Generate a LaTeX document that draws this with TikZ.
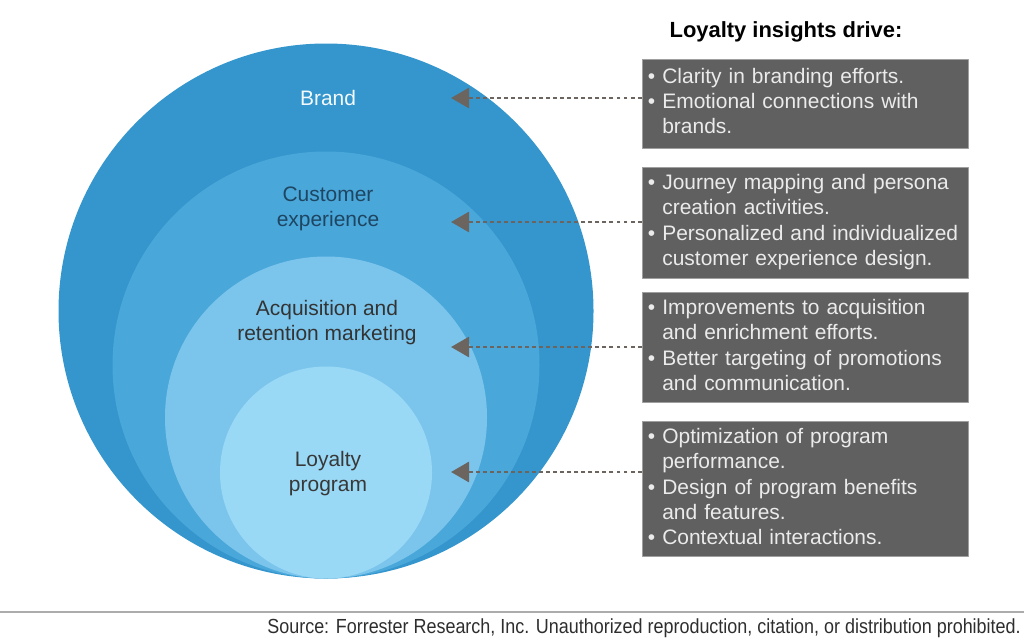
\documentclass[tikz,border=0pt]{standalone}
\usepackage{fontspec}
\setmainfont{Liberation Sans}
\newfontfamily\srcfont[FakeStretch=0.88]{Liberation Sans}
\usetikzlibrary{arrows.meta,positioning}
\definecolor{ringA}{RGB}{52,150,205}
\definecolor{ringB}{RGB}{74,167,218}
\definecolor{ringC}{RGB}{123,197,236}
\definecolor{ringD}{RGB}{153,217,246}
\definecolor{boxgray}{RGB}{96,96,96}
\definecolor{arrgray}{RGB}{108,100,95}
\definecolor{navy}{RGB}{30,70,98}
\newcommand{\pts}[1]{\begin{tabular}{@{}l@{\hspace{5pt}}l@{}}#1\end{tabular}}
\tikzset{
  insight/.style={draw=gray!75, line width=0.6pt, fill=boxgray, text=white!92!black,
    minimum width=8.15cm, text width=7.85cm, inner xsep=0.15cm, align=left},
  ringlabel/.style={align=center},
  pointer/.style={->, arrgray, line width=2.1pt, line cap=butt, dash pattern=on 2.8pt off 2.2pt}
}
\begin{document}
\begin{tikzpicture}[x=0.025cm, y=-0.025cm, >={Triangle[length=12.8pt,width=14.2pt]},
  font=\fontsize{14.9}{17.8}\selectfont, line join=round, line cap=round]
  \useasboundingbox (0,0) rectangle (1024,639);
  % nested circles, tangent at the bottom
  \def\cx{326} \def\base{578.5}
  \foreach \r/\col in {267.5/ringA, 213.5/ringB, 161/ringC, 106/ringD}
    \fill[\col] (\cx,\base-\r) circle[radius=\r];
  \node[ringlabel, text=white!94!ringA] (brand) at (328,98) {Brand};
  \node[ringlabel, text=navy] (cx) at (328,209) {Customer\\experience};
  \node[ringlabel, text=black!80] (acq) at (327,323) {Acquisition and\\retention marketing};
  \node[ringlabel, text=black!78] (loy) at (328,474) {Loyalty\\program};
  % insights
  \node[font=\bfseries\fontsize{15.6}{18}\selectfont] (title) at (786,32) {Loyalty insights drive:};
  \node[insight, minimum height=2.225cm] (b1) at (805,103.5)
    {\pts{\textbullet & Clarity in branding efforts.\\ \textbullet & Emotional connections with\\ & brands.}};
  \node[insight, minimum height=2.775cm] (b2) at (805,222.5)
    {\pts{\textbullet & Journey mapping and persona\\ & creation activities.\\ \textbullet & Personalized and individualized\\ & customer experience design.}};
  \node[insight, minimum height=2.675cm] (b3) at (805,347.5)
    {\pts{\textbullet & Improvements to acquisition\\ & and enrichment efforts.\\ \textbullet & Better targeting of promotions\\ & and communication.}};
  \node[insight, minimum height=3.3cm] (b4) at (805,489)
    {\pts{\textbullet & Optimization of program\\ & performance.\\ \textbullet & Design of program benefits\\ & and features.\\ \textbullet & Contextual interactions.}};
  \coordinate (t1) at (451,98);
  \coordinate (t2) at (451,222);
  \coordinate (t3) at (451,347);
  \coordinate (t4) at (451,472);
  \foreach \i in {1,...,4}
    \draw[pointer] (b\i.west |- t\i) -- (t\i);
  % source line
  \draw[gray!65, line width=1.6pt] (0,612) -- (1024,612);
  \node[anchor=east, inner sep=0pt, text=black!82, font=\srcfont\fontsize{14.5}{17}\selectfont] (src) at (1021,628)
    {Source: Forrester Research, Inc. Unauthorized reproduction, citation, or distribution prohibited.};
\end{tikzpicture}
\end{document}
